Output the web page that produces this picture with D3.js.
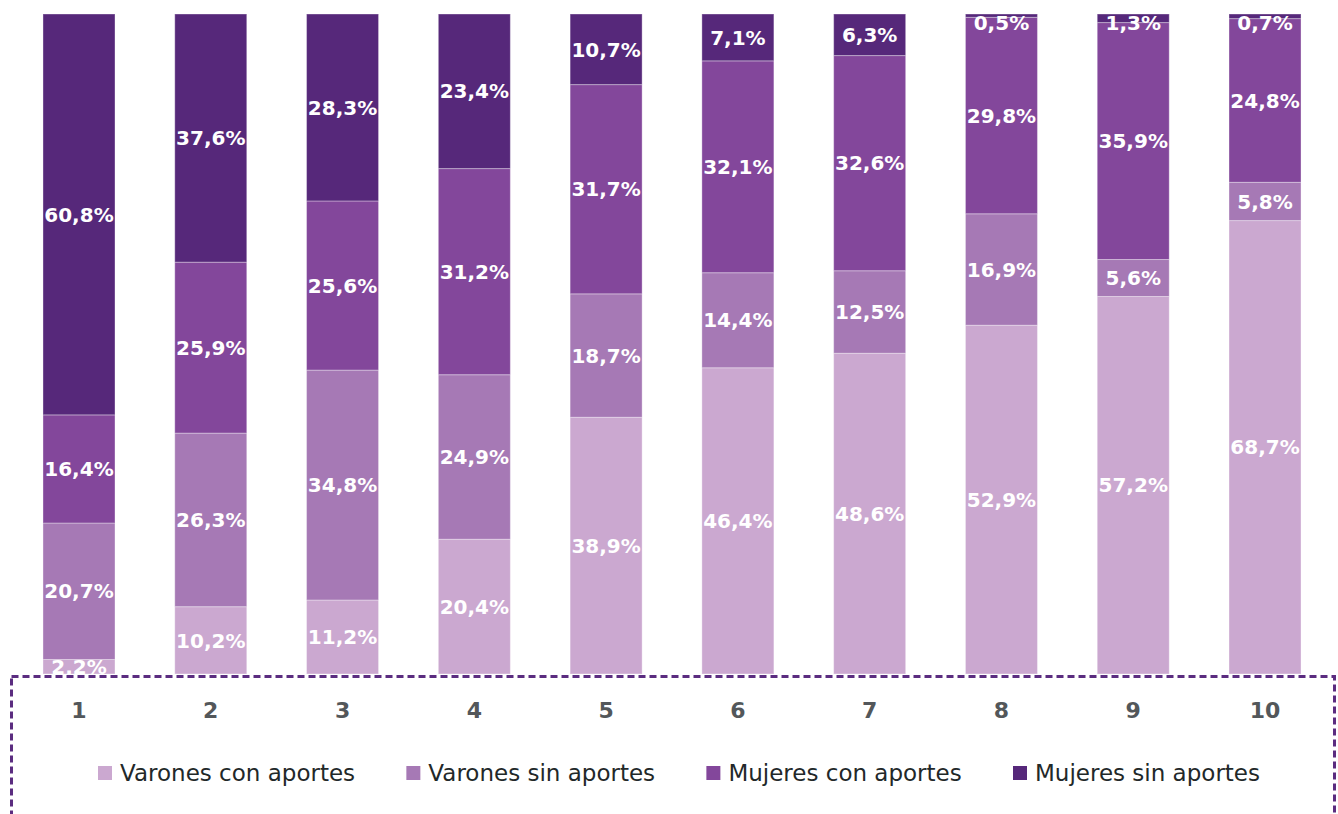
<!DOCTYPE html>
<html>
<head>
<meta charset="utf-8">
<script src="https://cdn.jsdelivr.net/npm/d3@7"></script>
<style>
  body { margin: 0; background: #fff; }
  svg { display: block; }
</style>
</head>
<body>
<div id="chart"></div>
<script>
// deciles
let categories = ["1","2","3","4","5","6","7","8","9","10"]
let series = ["Varones con aportes","Varones sin aportes","Mujeres con aportes","Mujeres sin aportes"]
let varonesCon = [2.2, 10.2, 11.2, 20.4, 38.9, 46.4, 48.6, 52.9, 57.2, 68.7]
let varonesSin = [20.7, 26.3, 34.8, 24.9, 18.7, 14.4, 12.5, 16.9, 5.6, 5.8]
let mujeresCon = [16.4, 25.9, 25.6, 31.2, 31.7, 32.1, 32.6, 29.8, 35.9, 24.8]
let mujeresSin = [60.8, 37.6, 28.3, 23.4, 10.7, 7.1, 6.3, 0.5, 1.3, 0.7]
let colors = ["#cba8d0", "#a679b5", "#83479b", "#56287a"]

let width = 1338, height = 814

let rows = categories.map((c, i) => ({
  cat: c,
  [series[0]]: varonesCon[i],
  [series[1]]: varonesSin[i],
  [series[2]]: mujeresCon[i],
  [series[3]]: mujeresSin[i]
}))

let stacked = d3.stack().keys(series).offset(d3.stackOffsetExpand)(rows)

let x = d3.scaleBand()
  .domain(categories)
  .range([13.1, 1330.9])
  .paddingInner(0.4536)
  .paddingOuter(0.2268)
let y = d3.scaleLinear().domain([0, 1]).range([674, 14])
let color = d3.scaleOrdinal().domain(series).range(colors)

let svg = d3.select("#chart").append("svg")
  .attr("width", width)
  .attr("height", height)

let layers = svg.append("g").selectAll("g")
  .data(stacked)
  .join("g")
  .attr("fill", d => color(d.key))

layers.selectAll("rect")
  .data(d => d)
  .join("rect")
  .attr("x", d => x(d.data.cat))
  .attr("width", x.bandwidth())
  .attr("y", d => y(d[1]))
  .attr("height", d => y(d[0]) - y(d[1]))
  .attr("stroke", "rgba(255,255,255,0.35)")
  .attr("stroke-width", 1)

// value labels
layers.selectAll("text")
  .data(d => d.map(v => ({ v, key: d.key })))
  .join("text")
  .attr("x", d => x(d.v.data.cat) + x.bandwidth() / 2)
  .attr("y", d => Math.max(23, (y(d.v[0]) + y(d.v[1])) / 2))
  .attr("dy", "0.36em")
  .attr("text-anchor", "middle")
  .attr("fill", "#fff")
  .style("font-family", "'DejaVu Sans', sans-serif")
  .style("font-weight", "bold")
  .style("font-size", "20px")
  .text(d => d3.format(".1f")(d.v.data[d.key]).replace(".", ",") + "%")

// dashed frame
svg.append("rect")
  .attr("x", 11.5)
  .attr("y", 676.5)
  .attr("width", 1323)
  .attr("height", 150)
  .attr("fill", "none")
  .attr("stroke", "#5b2c80")
  .attr("stroke-width", 3)
  .attr("stroke-dasharray", "7,4")

// category axis
let axis = svg.append("g")
  .attr("transform", "translate(0,710)")
  .call(d3.axisBottom(x).tickSize(0).tickPadding(0))
axis.select(".domain").remove()
axis.selectAll("text")
  .attr("dy", "0.36em")
  .attr("y", 0)
  .attr("fill", "#53575a")
  .style("font-family", "'DejaVu Sans', sans-serif")
  .style("font-weight", "bold")
  .style("font-size", "22px")

// legend
let legend = svg.append("g").attr("transform", "translate(0,773)")
let items = legend.selectAll("g")
  .data(series)
  .join("g")
items.append("rect")
  .attr("y", -7)
  .attr("width", 14)
  .attr("height", 14)
  .attr("fill", d => color(d))
items.append("text")
  .attr("x", 22)
  .attr("dy", "0.36em")
  .attr("fill", "#222829")
  .style("font-family", "'DejaVu Sans', sans-serif")
  .style("font-size", "23px")
  .style("font-weight", 500)
  .text(d => d)

let widths = []
items.selectAll("text").each(function () { widths.push(22 + this.getComputedTextLength()) })
let left = 98, right = 1260
let gap = (right - left - d3.sum(widths)) / (widths.length - 1)
let pos = left
items.attr("transform", (d, i) => {
  let p = pos
  pos += widths[i] + gap
  return "translate(" + p + ",0)"
})
</script>
</body>
</html>
